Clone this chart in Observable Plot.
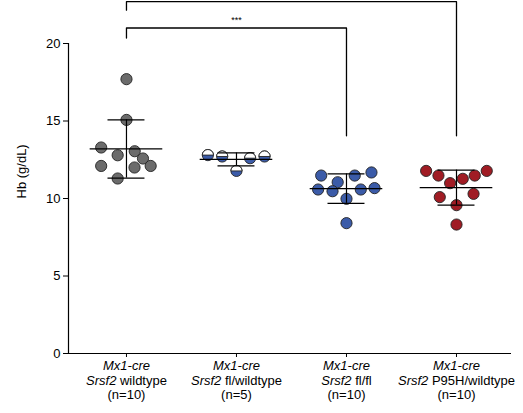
<!DOCTYPE html>
<html>
<head>
<meta charset="utf-8">
<script src="https://cdn.jsdelivr.net/npm/d3@7"></script>
<script src="https://cdn.jsdelivr.net/npm/@observablehq/plot@0.6"></script>
<style>
  html, body { margin: 0; padding: 0; background: #fff; }
  #chart { font-family: "Liberation Sans", Arial, sans-serif; }
</style>
</head>
<body>
<div id="chart"></div>
<script>
// ---- data ----
const line1 = "Mx1-cre";
const gene = "Srsf2";
const alleles = ["wildtype", "fl/wildtype", "fl/fl", "P95H/wildtype"];
const nLabels = ["(n=10)", "(n=5)", "(n=10)", "(n=10)"];
const yTicks = [0, 5, 10, 15, 20];
const yLabel = "Hb (g/dL)";
const fills = ["#6b6b6b", "#3b5ba8", "#3b5ba8", "#a01c24"];

const hbWT   = [17.7, 15.07, 13.29, 12.79, 13.05, 12.58, 12.1, 12.0, 12.1, 11.29];
const hbFlWT = [12.8, 12.71, 11.78, 12.6, 12.71];
const hbFlFl = [11.48, 11.48, 11.68, 11.05, 10.58, 10.47, 10.58, 10.67, 9.98, 8.41];
const hbP95H = [11.78, 11.48, 10.99, 11.27, 11.48, 11.78, 10.09, 10.3, 9.57, 8.32];

// horizontal scatter (jitter) of each point, in category widths
const jitWT   = [0, 0, -0.23, -0.08, 0.075, 0.15, -0.23, 0.073, 0.22, -0.08];
const jitFlWT = [-0.26, -0.13, 0, 0.124, 0.255];
const jitFlFl = [-0.23, 0.075, 0.227, -0.08, -0.258, -0.127, 0.13, 0.255, 0, 0];
const jitP95H = [-0.276, -0.164, -0.058, 0.057, 0.166, 0.275, -0.152, 0.155, 0, 0];

// significance brackets
const bracketFrom = [0, 0];
const bracketTo = [3, 2];
const bracketTop = [22.7, 21.0];
const bracketLeftEnd = [22.15, 20.35];
const bracketRightEnd = [14.05, 14.05];
const bracketText = ["", "***"];

// ---- build tables ----
const groups = [hbWT, hbFlWT, hbFlFl, hbP95H];
const jits = [jitWT, jitFlWT, jitFlFl, jitP95H];
const points = groups.flatMap((vals, g) => vals.map((v, i) => ({cat: g, jit: jits[g][i], hb: v})));
const stats = groups.map((vals, g) => ({cat: g, mean: d3.mean(vals), sd: d3.deviation(vals)}));
const bracketPaths = bracketFrom.flatMap((f, i) => [
  {b: i, x: f, y: bracketLeftEnd[i]},
  {b: i, x: f, y: bracketTop[i]},
  {b: i, x: bracketTo[i], y: bracketTop[i]},
  {b: i, x: bracketTo[i], y: bracketRightEnd[i]}
]);
const bracketLabels = bracketFrom.map((f, i) => ({x: (f + bracketTo[i]) / 2, y: bracketTop[i], t: bracketText[i]}));

const halfTop = {
  draw(context, size) {
    const r = Math.sqrt(size / Math.PI);
    context.moveTo(-r, 0);
    context.arc(0, 0, r, Math.PI, 2 * Math.PI);
    context.closePath();
  }
};

const meanHalf = 0.33, capHalf = 0.168;

const chart = Plot.plot({
  width: 523,
  height: 413,
  marginLeft: 68,
  marginRight: 12,
  marginTop: 43,
  marginBottom: 60,
  style: {fontFamily: "Liberation Sans, Arial, sans-serif", fontSize: "13px", color: "#000", background: "#fff"},
  x: {type: "linear", domain: [-0.527, 3.5]},
  y: {domain: [0, 20]},
  marks: [
    Plot.axisY({ticks: yTicks, tickSize: 5, tickPadding: 3, fontSize: 13, label: null}),
    Plot.text([yLabel], {frameAnchor: "left", rotate: -90, dx: -47, fontSize: 13, fill: "#000"}),
    Plot.axisX({ticks: [0, 1, 2, 3], tickSize: 4, tickPadding: 3, fontSize: 13, lineHeight: 1.08,
      tickFormat: i => [line1, gene + " " + alleles[i], nLabels[i]].join("\n"), label: null}),
    Plot.ruleX([-0.527], {y1: 0, y2: 20, stroke: "#000", strokeWidth: 1.2}),
    Plot.ruleY([0], {stroke: "#000", strokeWidth: 1.2}),
    Plot.dot(points, {x: d => d.cat + d.jit, y: "hb", r: 5.6,
      fill: d => fills[d.cat], stroke: "#222", strokeWidth: 0.9}),
    Plot.dot(points.filter(d => d.cat === 1), {x: d => d.cat + d.jit, y: "hb", r: 5.6,
      symbol: halfTop, fill: "#fff", stroke: "#222", strokeWidth: 0.9}),
    Plot.ruleY(stats, {y: "mean", x1: d => d.cat - meanHalf, x2: d => d.cat + meanHalf, stroke: "#000", strokeWidth: 1.2}),
    Plot.ruleX(stats, {x: "cat", y1: d => d.mean - d.sd, y2: d => d.mean + d.sd, stroke: "#000", strokeWidth: 1.2}),
    Plot.ruleY(stats, {y: d => d.mean + d.sd, x1: d => d.cat - capHalf, x2: d => d.cat + capHalf, stroke: "#000", strokeWidth: 1.2}),
    Plot.ruleY(stats, {y: d => d.mean - d.sd, x1: d => d.cat - capHalf, x2: d => d.cat + capHalf, stroke: "#000", strokeWidth: 1.2}),
    Plot.line(bracketPaths, {x: "x", y: "y", z: "b", stroke: "#000", strokeWidth: 1.3, curve: "linear"}),
    Plot.text(bracketLabels, {x: "x", y: "y", text: "t", dy: -8, fontSize: 9, fill: "#000"})
  ]
});

// italicise gene names in the x tick labels
d3.select(chart).selectAll('g[aria-label="x-axis tick label"] text').each(function () {
  const tspans = d3.select(this).selectAll("tspan").nodes();
  if (tspans.length >= 2) {
    d3.select(tspans[0]).style("font-style", "italic");
    const t2 = d3.select(tspans[1]);
    const txt = t2.text();
    const idx = txt.indexOf(" ");
    const g = txt.slice(0, idx), rest = txt.slice(idx);
    t2.text(null);
    t2.append("tspan").style("font-style", "italic").text(g);
    t2.append("tspan").text(rest);
  }
});

document.getElementById("chart").appendChild(chart);
</script>
</body>
</html>
